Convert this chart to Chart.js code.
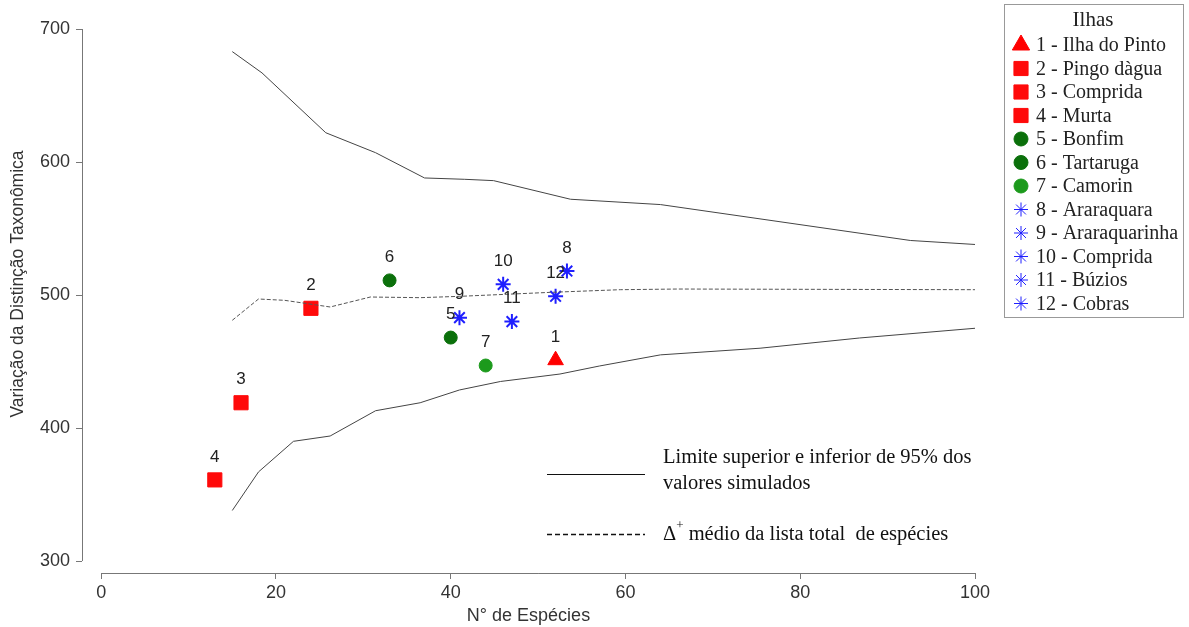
<!DOCTYPE html>
<html>
<head>
<meta charset="utf-8">
<script src="https://cdn.jsdelivr.net/npm/chart.js@4/dist/chart.umd.min.js"></script>
<style>
  html, body { margin: 0; padding: 0; background: #fff; }
  #wrap { width: 1189px; height: 627px; }
</style>
</head>
<body>
<div id="wrap"><canvas id="myChart"></canvas></div>
<script>
// islands (points)
const islandIds = ['1', '2', '3', '4', '5', '6', '7', '8', '9', '10', '11', '12'];
const islandNames = ['Ilha do Pinto', 'Pingo dàgua', 'Comprida', 'Murta', 'Bonfim', 'Tartaruga',
  'Camorin', 'Araraquara', 'Araraquarinha', 'Comprida', 'Búzios', 'Cobras'];
const islandSpecies = [52, 24, 16, 13, 40, 33, 44, 53.3, 41, 46, 47, 52];
const islandDelta = [451, 490, 419, 361, 468, 511, 447, 518, 483, 508, 480, 499];
const islandGroup = [0, 1, 1, 1, 2, 2, 3, 4, 4, 4, 4, 4];

// simulated funnel
const upperX = [15, 18.4, 25.7, 31.4, 37, 41.6, 44.9, 53.7, 64, 92.6, 100];
const upperY = [683, 667, 622, 607, 588, 587, 586, 572, 568, 541, 538];
const meanX = [15, 18, 21, 26.2, 30.8, 36.5, 41, 51.4, 59.4, 66, 100];
const meanY = [481, 497, 496, 491, 498.5, 498, 499, 502, 504, 504.5, 504];
const lowerX = [15, 18, 22, 26.2, 31.4, 36.5, 41, 45.7, 52.5, 57, 64, 75.4, 86.8, 100];
const lowerY = [338, 367, 390, 394, 413, 419, 428.6, 435, 440.6, 446.6, 455, 460, 467.7, 475];

const xTicks = [0, 20, 40, 60, 80, 100];
const yTicks = [300, 400, 500, 600, 700];

const groupStyle = [
  { shape: 'triangle', color: '#ff0000', r: 9 },
  { shape: 'rect', color: '#ff0a0a', r: 10 },
  { shape: 'circle', color: '#0b700b', r: 6.5 },
  { shape: 'circle', color: '#1c9a1c', r: 6.5 },
  { shape: 'star', color: '#1f1fff', r: 7.5 }
];

function pairs(xs, ys) {
  return xs.map((x, i) => ({ x: x, y: ys[i] }));
}

const sansFont = "'Liberation Sans', Arial, sans-serif";
const serifFont = "'Liberation Serif', 'Times New Roman', serif";

const axisPlugin = {
  id: 'rAxes',
  afterDraw(chart) {
    const ctx = chart.ctx;
    const xs = chart.scales.x, ys = chart.scales.y;
    const area = chart.chartArea;
    ctx.save();
    ctx.strokeStyle = '#777';
    ctx.lineWidth = 1;
    ctx.beginPath();
    ctx.moveTo(xs.getPixelForValue(xTicks[0]), area.bottom + 0.5);
    ctx.lineTo(xs.getPixelForValue(xTicks[xTicks.length - 1]), area.bottom + 0.5);
    ctx.moveTo(area.left + 0.5, ys.getPixelForValue(yTicks[0]));
    ctx.lineTo(area.left + 0.5, ys.getPixelForValue(yTicks[yTicks.length - 1]));
    ctx.stroke();
    // y title, a bit above the middle of the axis like the original
    ctx.translate(18, (ys.getPixelForValue(yTicks[0]) + ys.getPixelForValue(yTicks[yTicks.length - 1])) / 2 - 11);
    ctx.rotate(-Math.PI / 2);
    ctx.font = '17.5px ' + sansFont;
    ctx.fillStyle = '#333';
    ctx.textAlign = 'center';
    ctx.textBaseline = 'middle';
    ctx.fillText('Variação da Distinção Taxonômica', 0, 0);
    ctx.restore();
  }
};

const labelPlugin = {
  id: 'pointLabels',
  afterDatasetsDraw(chart) {
    const ctx = chart.ctx;
    const meta = chart.getDatasetMeta(3);
    ctx.save();
    ctx.font = '17px ' + sansFont;
    ctx.fillStyle = '#222';
    ctx.textAlign = 'center';
    ctx.textBaseline = 'middle';
    meta.data.forEach((pt, i) => {
      ctx.fillText(islandIds[i], pt.x, pt.y - 23);
    });
    ctx.restore();
  }
};

const legendPlugin = {
  id: 'customLegends',
  afterDraw(chart) {
    const ctx = chart.ctx;
    ctx.save();
    // islands box
    ctx.strokeStyle = '#999';
    ctx.lineWidth = 1;
    ctx.strokeRect(1004.5, 4.5, 179, 313);
    ctx.fillStyle = '#222';
    ctx.textAlign = 'center';
    ctx.textBaseline = 'middle';
    ctx.font = '21px ' + serifFont;
    ctx.fillText('Ilhas', 1093, 20);
    ctx.font = '20px ' + serifFont;
    ctx.textAlign = 'left';
    islandIds.forEach((id, i) => {
      const y = 45 + i * 23.5;
      const st = groupStyle[islandGroup[i]];
      ctx.fillStyle = st.color;
      ctx.strokeStyle = st.color;
      Chart.helpers.drawPoint(ctx, {
        pointStyle: st.shape, radius: st.shape === 'triangle' ? 10 : st.shape === 'rect' ? 10 : 7,
        rotation: 0, borderWidth: st.shape === 'star' ? 2.2 : 1
      }, 1021, y);
      ctx.fillStyle = '#222';
      ctx.fillText(id + ' - ' + islandNames[i], 1036, y + 1);
    });

    // line key
    ctx.strokeStyle = '#111';
    ctx.lineWidth = 1.2;
    ctx.beginPath();
    ctx.moveTo(547, 474.5);
    ctx.lineTo(645, 474.5);
    ctx.stroke();
    ctx.lineWidth = 1.6;
    ctx.setLineDash([5, 3]);
    ctx.beginPath();
    ctx.moveTo(547, 534.5);
    ctx.lineTo(645, 534.5);
    ctx.stroke();
    ctx.setLineDash([]);
    ctx.fillStyle = '#111';
    ctx.font = '20.5px ' + serifFont;
    ctx.fillText('Limite superior e inferior de 95% dos', 663, 458);
    ctx.fillText('valores simulados', 663, 484);
    ctx.fillText('Δ', 663, 535);
    const dw = ctx.measureText('Δ').width;
    ctx.font = '13px ' + serifFont;
    ctx.fillText('+', 663 + dw, 526);
    const pw = ctx.measureText('+').width;
    ctx.font = '20.5px ' + serifFont;
    ctx.fillText(' médio da lista total  de espécies', 663 + dw + pw, 535);
    ctx.restore();
  }
};

document.addEventListener('DOMContentLoaded', function () {
  const ctx = document.getElementById('myChart');
  new Chart(ctx, {
    type: 'scatter',
    data: {
      datasets: [
        {
          type: 'line', data: pairs(upperX, upperY), borderColor: '#444', borderWidth: 1,
          pointRadius: 0, fill: false, tension: 0
        },
        {
          type: 'line', data: pairs(meanX, meanY), borderColor: '#555', borderWidth: 1,
          borderDash: [4, 2], pointRadius: 0, fill: false, tension: 0
        },
        {
          type: 'line', data: pairs(lowerX, lowerY), borderColor: '#444', borderWidth: 1,
          pointRadius: 0, fill: false, tension: 0
        },
        {
          data: pairs(islandSpecies, islandDelta),
          pointStyle: c => groupStyle[islandGroup[c.dataIndex]].shape,
          backgroundColor: c => groupStyle[islandGroup[c.dataIndex]].color,
          borderColor: c => groupStyle[islandGroup[c.dataIndex]].color,
          pointRadius: c => groupStyle[islandGroup[c.dataIndex]].r,
          pointBorderWidth: c => groupStyle[islandGroup[c.dataIndex]].shape === 'star' ? 2 : 1
        }
      ]
    },
    options: {
      responsive: true,
      maintainAspectRatio: false,
      animation: false,
      layout: { padding: { top: 29, right: 214, left: 0, bottom: 0 } },
      plugins: { legend: { display: false }, tooltip: { enabled: false } },
      scales: {
        x: {
          type: 'linear', min: -2.2, max: 100,
          afterBuildTicks: s => { s.ticks = xTicks.map(v => ({ value: v })); },
          afterFit: s => { s.height = 54; },
          border: { display: false },
          grid: { drawOnChartArea: false, drawTicks: true, tickLength: 6, color: '#777' },
          ticks: { font: { size: 18, family: sansFont }, color: '#333', padding: 3 },
          title: { display: true, text: 'N° de Espécies', font: { size: 18, family: sansFont }, color: '#333', padding: 0 }
        },
        y: {
          type: 'linear', min: 291, max: 700,
          afterBuildTicks: s => { s.ticks = yTicks.map(v => ({ value: v })); },
          afterFit: s => { s.width = 82; },
          border: { display: false },
          grid: { drawOnChartArea: false, drawTicks: true, tickLength: 6, color: '#777' },
          ticks: { font: { size: 18, family: sansFont }, color: '#333', padding: 6 }
        }
      }
    },
    plugins: [axisPlugin, labelPlugin, legendPlugin]
  });
});
</script>
</body>
</html>
